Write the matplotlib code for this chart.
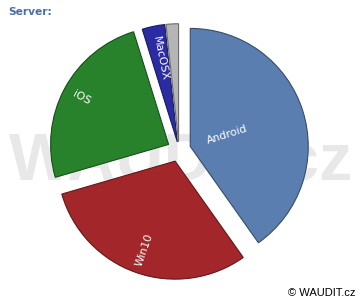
import numpy as np
import matplotlib
matplotlib.use("Agg")
import matplotlib.pyplot as plt
from matplotlib.colors import to_rgb

# data
labels = ["Android", "Win10", "iOS", "MacOSX", ""]
values = [40.2, 30.3, 24.7, 3.1, 1.7]
colors = ["#5b7eb0", "#a3262a", "#28822b", "#2b2ba3", "#b5b5b5"]
explode = [0.1, 0.1, 0.1, 0.07, 0.07]
label_pos = [0.33, 0.8, 0.84, 0.72, 0.8]   # label radius as fraction of r

W, H = 360, 300
fig = plt.figure(figsize=(3.6, 3.0), dpi=100)
ax = fig.add_axes([0, 0, 1, 1])

cx, cy, r = 179, H - 150, 118

# watermark behind the pie
ax.text(181, H - 162, "WAUDIT.cz", fontsize=48, fontweight="bold",
        family="Liberation Sans", color="#e8e8e8", ha="center", va="center",
        zorder=0)

# pie explode is in data units, so scale by radius
wedges, _ = ax.pie(values, colors=colors, explode=[e * r for e in explode],
                   startangle=90, counterclock=False, radius=r,
                   center=(cx, cy))

for w, c in zip(wedges, colors):
    w.set_edgecolor(tuple(v * 0.6 for v in to_rgb(c)))
    w.set_linewidth(0.8)
    w.set_zorder(2)

# rotated labels inside the slices
for w, lab, f in zip(wedges, labels, label_pos):
    if not lab:
        continue
    th = (w.theta1 + w.theta2) / 2
    x = w.center[0] + f * w.r * np.cos(np.radians(th))
    y = w.center[1] + f * w.r * np.sin(np.radians(th))
    rot = th % 360
    if 90 < rot < 270:
        rot -= 180
    ax.text(x, y, lab, rotation=rot, ha="center", va="center",
            rotation_mode="anchor", color="white", fontsize=7.8,
            family="DejaVu Sans", zorder=3)

ax.text(8, H - 12, "Server:", fontsize=7.7, fontweight="bold",
        family="DejaVu Sans", color="#4a6fa5", ha="left", va="center")
ax.text(355, H - 293, "© WAUDIT.cz", fontsize=8, family="Liberation Sans",
        color="black", ha="right", va="center")

ax.set_xlim(0, W)
ax.set_ylim(0, H)
ax.set_aspect("auto")
ax.axis("off")

fig.savefig("out.png", dpi=100)
